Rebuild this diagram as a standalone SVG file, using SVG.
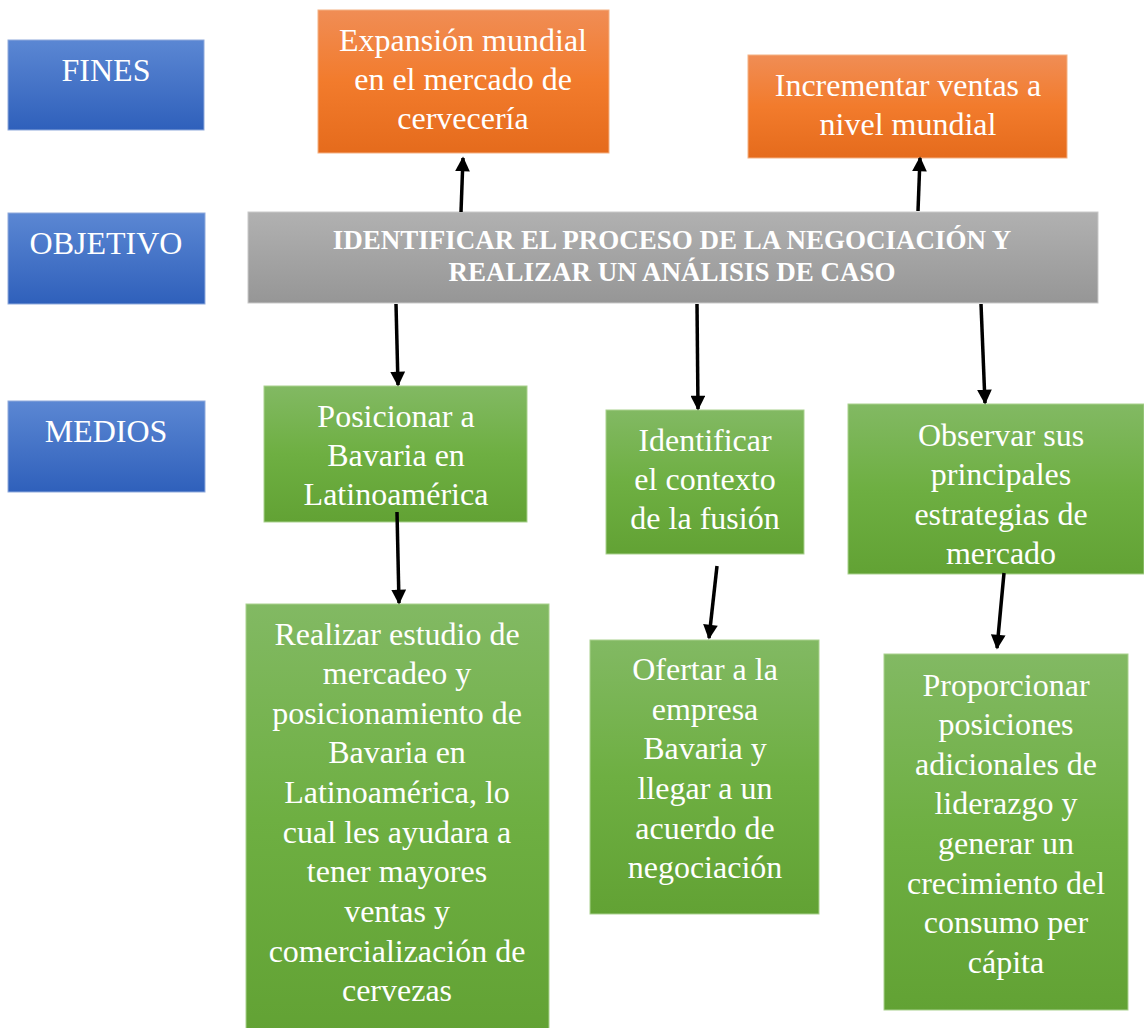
<svg xmlns="http://www.w3.org/2000/svg" width="1144" height="1028" viewBox="0 0 1144 1028">
<defs>
<linearGradient id="gBlue" x1="0" y1="0" x2="0" y2="1"><stop offset="0" stop-color="#5B87D3"/><stop offset="1" stop-color="#2F60BB"/></linearGradient>
<linearGradient id="gOrange" x1="0" y1="0" x2="0" y2="1"><stop offset="0" stop-color="#F08D55"/><stop offset="0.5" stop-color="#F27B2C"/><stop offset="1" stop-color="#E56B1C"/></linearGradient>
<linearGradient id="gGray" x1="0" y1="0" x2="0" y2="1"><stop offset="0" stop-color="#B1B1B1"/><stop offset="1" stop-color="#969696"/></linearGradient>
<linearGradient id="gGreen" x1="0" y1="0" x2="0" y2="1"><stop offset="0" stop-color="#82B963"/><stop offset="0.5" stop-color="#6EAF42"/><stop offset="1" stop-color="#62A234"/></linearGradient>
<marker id="ah" viewBox="0 0 10 10" refX="9" refY="5" markerWidth="4.4" markerHeight="4.2" orient="auto" markerUnits="strokeWidth"><path d="M0,0 L10,5 L0,10 z" fill="#000"/></marker>
<style>
.blue{fill:url(#gBlue);stroke:#8FAADC;stroke-width:1}
.orange{fill:url(#gOrange);stroke:#F4B183;stroke-width:1}
.gray{fill:url(#gGray);stroke:#C9C9C9;stroke-width:1}
.green{fill:url(#gGreen);stroke:#A9D18E;stroke-width:1}
text{font-family:"Liberation Serif","Times New Roman",serif;fill:#fff;text-anchor:middle;font-size:32px}
.b{font-weight:bold;font-size:27px}
.c{stroke:#000;stroke-width:3.5;fill:none;marker-end:url(#ah)}
</style>
</defs>
<rect width="1144" height="1028" fill="#fff"/>
<g id="fines"><rect class="blue" x="8" y="40" width="196" height="90"/><text x="106" y="81">FINES</text></g>
<g id="objetivo"><rect class="blue" x="8" y="213" width="197" height="91"/><text x="106" y="254">OBJETIVO</text></g>
<g id="medios"><rect class="blue" x="8" y="401" width="197" height="91"/><text x="106" y="442">MEDIOS</text></g>
<g id="fin1"><rect class="orange" x="318" y="10" width="291" height="143"/><text x="463" y="51">Expansión mundial</text><text x="463" y="90">en el mercado de</text><text x="463" y="129">cervecería</text></g>
<g id="fin2"><rect class="orange" x="748" y="55" width="319" height="103"/><text x="908" y="96">Incrementar ventas a</text><text x="908" y="135">nivel mundial</text></g>
<g id="objective"><rect class="gray" x="248" y="212" width="850" height="91"/><text class="b" x="672" y="249">IDENTIFICAR EL PROCESO DE LA NEGOCIACIÓN Y</text><text class="b" x="672" y="281">REALIZAR UN ANÁLISIS DE CASO</text></g>
<g id="medio1"><rect class="green" x="264" y="386" width="263" height="136"/><text x="396" y="427">Posicionar a</text><text x="396" y="466">Bavaria en</text><text x="396" y="505">Latinoamérica</text></g>
<g id="medio2"><rect class="green" x="606" y="410" width="198" height="144"/><text x="705" y="451">Identificar</text><text x="705" y="490">el contexto</text><text x="705" y="529">de la fusión</text></g>
<g id="medio3"><rect class="green" x="848" y="404" width="296" height="170"/><text x="1001" y="446">Observar sus</text><text x="1001" y="485">principales</text><text x="1001" y="525">estrategias de</text><text x="1001" y="564">mercado</text></g>
<g id="accion1"><rect class="green" x="246" y="604" width="303" height="430"/>
<text x="397" y="645">Realizar estudio de</text><text x="397" y="684">mercadeo y</text><text x="397" y="724">posicionamiento de</text><text x="397" y="763">Bavaria en</text><text x="397" y="803">Latinoamérica, lo</text><text x="397" y="843">cual les ayudara a</text><text x="397" y="882">tener mayores</text><text x="397" y="922">ventas y</text><text x="397" y="962">comercialización de</text><text x="397" y="1001">cervezas</text></g>
<g id="accion2"><rect class="green" x="590" y="640" width="229" height="274"/>
<text x="705" y="680">Ofertar a la</text><text x="705" y="720">empresa</text><text x="705" y="759">Bavaria y</text><text x="705" y="799">llegar a un</text><text x="705" y="839">acuerdo de</text><text x="705" y="878">negociación</text></g>
<g id="accion3"><rect class="green" x="884" y="654" width="244" height="356"/>
<text x="1006" y="696">Proporcionar</text><text x="1006" y="735">posiciones</text><text x="1006" y="775">adicionales de</text><text x="1006" y="814">liderazgo y</text><text x="1006" y="854">generar un</text><text x="1006" y="894">crecimiento del</text><text x="1006" y="933">consumo per</text><text x="1006" y="973">cápita</text></g>
<g id="connectors">
<path class="c" d="M461,212 L463,158"/>
<path class="c" d="M918,211 L920,158"/>
<path class="c" d="M396,304 L398,385"/>
<path class="c" d="M697,304 L698,409"/>
<path class="c" d="M981,304 L985,403"/>
<path class="c" d="M397,512 L399,603"/>
<path class="c" d="M717,566 L709,638"/>
<path class="c" d="M1004,573 L997,648"/>
</g>
</svg>
